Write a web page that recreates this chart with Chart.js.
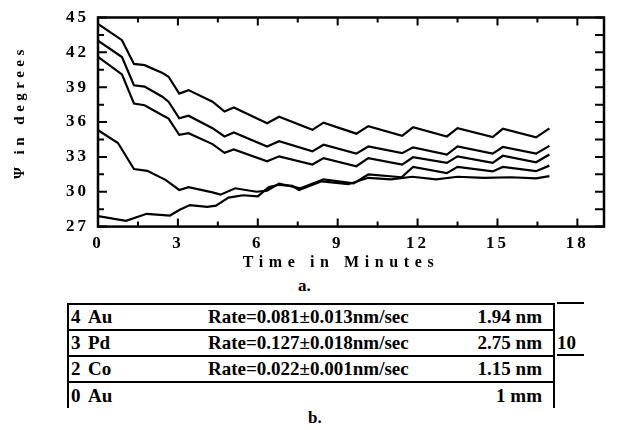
<!DOCTYPE html>
<html>
<head>
<meta charset="utf-8">
<script src="https://cdn.jsdelivr.net/npm/chart.js@4.4.1/dist/chart.umd.min.js"></script>
<style>
  html, body { margin: 0; padding: 0; background: #fff; }
  body { width: 617px; height: 430px; position: relative; overflow: hidden;
         font-family: "Liberation Serif", "Times New Roman", serif; font-weight: bold; color: #000; }
  #wrap { position: absolute; left: 0; top: 0; width: 617px; height: 275px; }
  .lbl { position: absolute; font-size: 17px; line-height: 1; }
  .row { position: absolute; left: 67px; width: 484px; border-top: 2px solid #000;
         border-left: 2px solid #000; border-right: 2px solid #000; font-size: 19px; }
  .row span { position: absolute; top: 50%; transform: translateY(-50%); white-space: nowrap; }
  .side { position: absolute; height: 2px; background: #000; }
</style>
</head>
<body>
<div id="wrap"><canvas id="c" width="617" height="275"></canvas></div>
<div class="lbl" style="left:298px; top:277px;">a.</div>
<div id="table"></div>
<div class="lbl" style="left:308px; top:409px;">b.</div>

<script>
// time (minutes) and psi (degrees)
const timesUpper = [0, 0.9, 1.35, 1.75, 2.4, 2.65, 3.05, 3.4, 4.3, 4.75, 5.1, 6.35, 6.8, 8.05, 8.47, 9.7, 10.15, 11.42, 11.83, 13.1, 13.5, 14.82, 15.2, 16.45, 16.95];
const psiA = [44.45, 43.05, 41.0, 40.9, 40.25, 39.9, 38.45, 38.75, 37.75, 36.9, 37.25, 35.9, 36.45, 35.33, 35.95, 35.0, 35.65, 34.82, 35.55, 34.76, 35.47, 34.7, 35.42, 34.68, 35.45];
const psiB = [43.0, 41.6, 39.17, 39.05, 38.2, 37.75, 36.32, 36.55, 35.47, 34.76, 35.1, 33.9, 34.35, 33.48, 34.05, 33.28, 33.9, 33.32, 33.82, 33.2, 33.9, 33.28, 33.85, 33.28, 33.95];
const psiC = [41.6, 40.1, 37.6, 37.45, 36.6, 36.3, 34.9, 35.04, 34.1, 33.35, 33.65, 32.63, 33.05, 32.34, 32.9, 32.2, 32.9, 32.34, 32.97, 32.48, 33.05, 32.48, 33.1, 32.54, 33.2];

const timesD = [0, 0.75, 1.35, 1.85, 2.55, 3.05, 3.4, 4.3, 4.6, 5.15, 5.95, 6.35, 6.8, 7.6, 8.47, 9.6, 10.15, 11.4, 11.83, 13.1, 13.5, 14.82, 15.2, 16.45, 16.95];
const psiD = [35.3, 34.2, 31.95, 31.8, 31.0, 30.15, 30.4, 29.95, 29.75, 30.3, 30.0, 30.1, 30.7, 30.3, 31.07, 30.72, 31.49, 31.25, 32.14, 31.6, 32.14, 31.75, 32.14, 31.77, 32.25];

const timesE = [0, 1.05, 1.83, 2.7, 3.07, 3.45, 4.1, 4.43, 4.9, 5.45, 6.0, 6.42, 6.8, 7.3, 7.55, 8.4, 9.4, 10.15, 11.0, 11.8, 12.7, 13.5, 14.5, 15.5, 16.45, 16.95];
const psiE = [27.9, 27.5, 28.1, 27.95, 28.45, 28.85, 28.7, 28.8, 29.5, 29.7, 29.6, 30.4, 30.6, 30.5, 30.15, 30.9, 30.65, 31.2, 31.07, 31.29, 31.07, 31.29, 31.2, 31.25, 31.15, 31.35];

// layer stack (part b)
const layerNo = ['4', '3', '2', '0'];
const layerMetal = ['Au', 'Pd', 'Co', 'Au'];
const layerRate = ['Rate=0.081\u00b10.013nm/sec', 'Rate=0.127\u00b10.018nm/sec', 'Rate=0.022\u00b10.001nm/sec', ''];
const layerThick = ['1.94 nm', '2.75 nm', '1.15 nm', '1 mm'];
const repeatCount = '10';

const FONT = '"Liberation Serif", "Times New Roman", serif';

function pts(t, v) { return t.map((x, i) => ({ x: x, y: v[i] })); }

const onStep = (v, step, base) => Math.abs((v - base) / step - Math.round((v - base) / step)) < 1e-6;

const frame = {
    id: 'frame',
    beforeUpdate(chart) { chart.ctx.letterSpacing = '3px'; },
    beforeDraw(chart) { chart.ctx.letterSpacing = '3px'; },
    afterDraw(chart) {
        const { ctx, chartArea: a, scales: { x, y } } = chart;
        ctx.save();
        ctx.strokeStyle = '#000';
        ctx.lineWidth = 2.5;
        ctx.strokeRect(a.left, a.top, a.right - a.left, a.bottom - a.top);
        ctx.lineWidth = 2;
        ctx.beginPath();
        x.ticks.forEach(t => {
            const px = x.getPixelForValue(t.value);
            const len = onStep(t.value, 3, 0) ? 8 : 5;
            ctx.moveTo(px, a.bottom); ctx.lineTo(px, a.bottom - len);
            ctx.moveTo(px, a.top); ctx.lineTo(px, a.top + len);
        });
        y.ticks.forEach(t => {
            const py = y.getPixelForValue(t.value);
            const len = onStep(t.value, 3, 27) ? 9 : 6;
            ctx.moveTo(a.left, py); ctx.lineTo(a.left + len, py);
            ctx.moveTo(a.right, py); ctx.lineTo(a.right - 9, py);
        });
        ctx.stroke();

        // axis titles, widely letter-spaced as in the print
        ctx.fillStyle = '#000';
        ctx.font = 'bold 16px ' + FONT;
        ctx.letterSpacing = '5.6px';
        ctx.textAlign = 'center';
        ctx.textBaseline = 'middle';
        ctx.fillText('Time in Minutes', (a.left + a.right) / 2 - 10, a.bottom + 36);

        ctx.font = 'bold 15px ' + FONT;
        ctx.letterSpacing = '4.5px';
        ctx.translate(20, (a.top + a.bottom) / 2 - 10);
        ctx.rotate(-Math.PI / 2);
        ctx.fillText('\u03a8 in degrees', 0, 0);
        ctx.restore();
    }
};

const lineStyle = { borderColor: '#000', borderWidth: 2.2, pointRadius: 0, tension: 0, fill: false };

new Chart(document.getElementById('c'), {
    type: 'line',
    data: {
        datasets: [
            { ...lineStyle, data: pts(timesUpper, psiA) },
            { ...lineStyle, data: pts(timesUpper, psiB) },
            { ...lineStyle, data: pts(timesUpper, psiC) },
            { ...lineStyle, data: pts(timesD, psiD) },
            { ...lineStyle, data: pts(timesE, psiE) }
        ]
    },
    options: {
        responsive: false, animation: false, parsing: true,
        layout: { padding: { left: 57, right: 13, top: 5, bottom: 14 } },
        plugins: { legend: { display: false }, tooltip: { enabled: false } },
        scales: {
            x: {
                type: 'linear', min: 0, max: 19,
                grid: { display: false, drawTicks: false }, border: { display: false },
                ticks: {
                    stepSize: 1.5, includeBounds: false, autoSkip: false, maxRotation: 0, padding: 7,
                    color: '#000', font: { family: FONT, size: 17, weight: 'bold' },
                    callback: v => onStep(v, 3, 0) ? String(Math.round(v)) : ''
                }
            },
            y: {
                type: 'linear', min: 27, max: 45,
                grid: { display: false, drawTicks: false }, border: { display: false },
                ticks: {
                    stepSize: 1.5, autoSkip: false, padding: 9,
                    color: '#000', font: { family: FONT, size: 17, weight: 'bold', lineHeight: 1 },
                    callback: v => onStep(v, 3, 27) ? String(Math.round(v)) : ''
                }
            }
        }
    },
    plugins: [frame]
});

// part b: the layer table
const rowTop = [303, 328.5, 354.5, 381];
const rowBottom = 408;
const table = document.getElementById('table');
layerNo.forEach((n, i) => {
    const r = document.createElement('div');
    r.className = 'row';
    const h = (i + 1 < rowTop.length ? rowTop[i + 1] : rowBottom) - rowTop[i];
    r.style.top = rowTop[i] + 'px';
    r.style.height = (h - 2) + 'px';
    r.innerHTML =
        '<span style="left:2px">' + n + '</span>' +
        '<span style="left:19px">' + layerMetal[i] + '</span>' +
        '<span style="left:139px">' + layerRate[i] + '</span>' +
        '<span style="right:11px">' + layerThick[i] + '</span>';
    table.appendChild(r);
});
const s1 = document.createElement('div');
s1.className = 'side'; s1.style.cssText = 'left:557px; top:302px; width:27px;';
const s2 = document.createElement('div');
s2.className = 'side'; s2.style.cssText = 'left:557px; top:353.5px; width:27px;';
const rep = document.createElement('div');
rep.className = 'lbl'; rep.style.cssText = 'left:557px; top:333px; font-size:19px;';
rep.textContent = repeatCount;
table.appendChild(s1); table.appendChild(s2); table.appendChild(rep);
</script>
</body>
</html>
